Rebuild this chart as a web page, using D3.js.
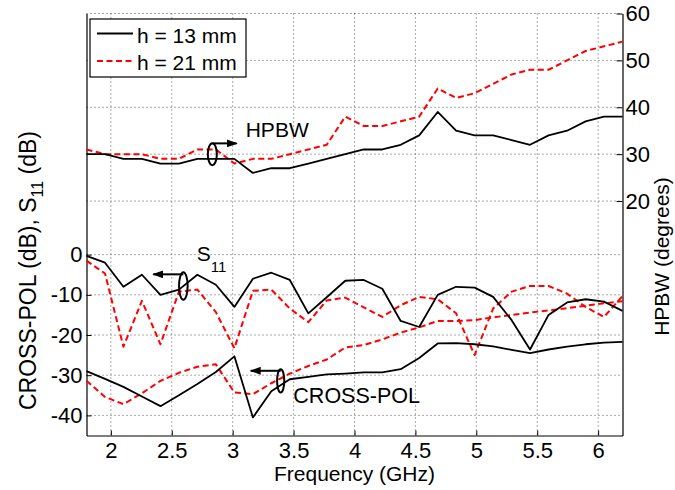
<!DOCTYPE html>
<html lang="en">
<head>
    <meta charset="UTF-8">
    <title>HPBW, S11, CROSS-POL</title>
    <script src="https://cdn.jsdelivr.net/npm/d3@7/dist/d3.min.js"></script>
    <style>
        body { margin: 0; background: #fff; }
        text { font-family: "Liberation Sans", Arial, sans-serif; font-size: 21px; fill: #000; }
    </style>
</head>
<body>
<script>
    // frequency samples (GHz), 30 points across the band
    var freq = [1.800, 1.952, 2.103, 2.255, 2.407, 2.559, 2.710, 2.862, 3.014, 3.166,
        3.317, 3.469, 3.621, 3.772, 3.924, 4.076, 4.228, 4.379, 4.531, 4.683,
        4.834, 4.986, 5.138, 5.290, 5.441, 5.593, 5.745, 5.897, 6.048, 6.200];

    // HPBW (degrees) -> right axis
    var hpbw13 = [30, 30, 29, 29, 28, 28, 29, 29, 29, 26, 27, 27, 28, 29, 30,
        31, 31, 32, 34, 39, 35, 34, 34, 33, 32, 34, 35, 37, 38, 38];
    var hpbw21 = [31, 30, 30, 30, 29, 29, 31, 31, 28, 29, 29, 30, 31, 32, 38,
        36, 36, 37, 38, 44, 42, 43, 45, 47, 48, 48, 50, 52, 53, 54];

    // S11 (dB) -> left axis
    var s11_13 = [-0.3, -2, -8, -5, -10, -8.7, -5, -7.5, -13, -6, -4.5, -6.3, -14.6, -10.6, -6.5,
        -6.3, -8.5, -16.5, -18, -10, -8, -8.2, -10.5, -16.3, -23.6, -15, -11.9, -11.1, -11.7, -14];
    var s11_21 = [-1.5, -4.7, -22.9, -11.5, -22.3, -9.2, -8.7, -14.3, -23.3, -9, -8.7, -13.4, -16.8, -11.4, -10.7,
        -13.1, -15.5, -12.6, -10.5, -11.1, -14.6, -25, -13.4, -9.2, -7.8, -7.8, -9.7, -13, -15.5, -10.3];

    // CROSS-POL (dB) -> left axis
    var xpol13 = [-29, -30.9, -32.9, -35.3, -37.7, -35, -32.2, -29.2, -25.3, -40.5, -34, -31, -30.4, -29.8, -29.6,
        -29.3, -29.3, -28.5, -25.7, -22.1, -22, -22.3, -22.8, -23.7, -24.5, -23.6, -22.9, -22.3, -21.9, -21.7];
    var xpol21 = [-31.4, -35.4, -37.2, -34.5, -31.4, -29.4, -27.9, -27.3, -34.3, -34.7, -32, -29.6, -27.7, -26.1, -23.1,
        -22.5, -21.1, -19.4, -18.1, -16.5, -16.5, -16.3, -15.6, -15, -14.4, -13.9, -13.3, -12.7, -12.1, -11.6];

    var xTicks = [2, 2.5, 3, 3.5, 4, 4.5, 5, 5.5, 6];
    var leftTicks = [-40, -30, -20, -10, 0];
    var rightTicks = [20, 30, 40, 50, 60];
    var legendLabels = ["h = 13 mm", "h = 21 mm"];

    var width = 675;
    var height = 490;
    var margin = {top: 13.5, right: 52.5, bottom: 54.5, left: 86.5};
    var w = width - margin.left - margin.right;
    var h = height - margin.top - margin.bottom;

    var svg = d3.select("body").append("svg")
            .attr("width", width)
            .attr("height", height);

    var defs = svg.append("defs");
    defs.append("marker")
            .attr("id", "arrow")
            .attr("viewBox", "0 0 11 8")
            .attr("refX", 10).attr("refY", 4)
            .attr("markerWidth", 11).attr("markerHeight", 8)
            .attr("markerUnits", "userSpaceOnUse")
            .attr("orient", "auto")
            .append("path").attr("d", "M0,0L11,4L0,8Z").attr("fill", "#000");

    var g = svg.append("g").attr("transform", "translate(" + margin.left + "," + margin.top + ")");

    var x = d3.scaleLinear().domain([1.8, 6.2]).range([0, w]);
    var yL = d3.scaleLinear().domain([-45, 60]).range([h, 0]);
    var yR = d3.scaleLinear().domain([-30, 60]).range([h, 0]);

    // dotted grid
    var gridStyle = function (sel) {
        sel.attr("stroke", "#555").attr("stroke-width", 1).attr("stroke-dasharray", "1,3");
    };
    g.selectAll(".vgrid").data(xTicks).enter().append("line")
            .attr("x1", function (d) { return x(d); }).attr("x2", function (d) { return x(d); })
            .attr("y1", 0).attr("y2", h).call(gridStyle);
    g.selectAll(".lgrid").data(leftTicks).enter().append("line")
            .attr("x1", 0).attr("x2", w)
            .attr("y1", function (d) { return yL(d); }).attr("y2", function (d) { return yL(d); })
            .call(gridStyle);
    g.selectAll(".rgrid").data(rightTicks).enter().append("line")
            .attr("x1", 0).attr("x2", w)
            .attr("y1", function (d) { return yR(d); }).attr("y2", function (d) { return yR(d); })
            .call(gridStyle);

    // axes, ticks inside like matlab
    var fmt = function (d) { return String(d); };
    var xAxis = g.append("g").attr("transform", "translate(0," + h + ")")
            .call(d3.axisBottom(x).tickValues(xTicks).tickFormat(fmt).tickSizeInner(-5).tickSizeOuter(0).tickPadding(7));
    var lAxis = g.append("g")
            .call(d3.axisLeft(yL).tickValues(leftTicks).tickFormat(fmt).tickSizeInner(-5).tickSizeOuter(0).tickPadding(4));
    var rAxis = g.append("g").attr("transform", "translate(" + w + ",0)")
            .call(d3.axisRight(yR).tickValues(rightTicks).tickFormat(fmt).tickSizeInner(-6).tickSizeOuter(0).tickPadding(3));
    [xAxis, lAxis, rAxis].forEach(function (a) {
        a.attr("font-size", null).attr("font-family", null);
        a.selectAll("text").style("font-size", "22px");
        a.select(".domain").attr("stroke", "#000").attr("stroke-width", 1.2);
        a.selectAll(".tick line").attr("stroke", "#000");
    });

    // curves
    var lineL = d3.line().x(function (d, i) { return x(freq[i]); }).y(function (d) { return yL(d); });
    var lineR = d3.line().x(function (d, i) { return x(freq[i]); }).y(function (d) { return yR(d); });
    var series = [
        {v: hpbw21, line: lineR, red: true},
        {v: s11_21, line: lineL, red: true},
        {v: xpol21, line: lineL, red: true},
        {v: hpbw13, line: lineR, red: false},
        {v: s11_13, line: lineL, red: false},
        {v: xpol13, line: lineL, red: false}
    ];
    g.selectAll(".curve").data(series).enter().append("path")
            .attr("d", function (d) { return d.line(d.v); })
            .attr("fill", "none")
            .attr("stroke", function (d) { return d.red ? "#ff0000" : "#000"; })
            .attr("stroke-width", function (d) { return d.red ? 2 : 1.8; })
            .attr("stroke-dasharray", function (d) { return d.red ? "6,3.5" : null; })
            .attr("stroke-linejoin", "round");

    // annotations: ellipse around the pair + arrow to the axis it uses
    var notes = [
        {cx: 2.833, cy: yR(30), rx: 4.5, ry: 11, ay: yR(32.3), ax: 3.033},
        {cx: 2.595, cy: yL(-7.8), rx: 4.3, ry: 13.8, ay: yL(-4.9), ax: 2.348},
        {cx: 3.394, cy: yL(-31.4), rx: 3.6, ry: 11.7, ay: yL(-28.9), ax: 3.148}
    ];
    notes.forEach(function (n) {
        g.append("ellipse")
                .attr("cx", x(n.cx)).attr("cy", n.cy).attr("rx", n.rx).attr("ry", n.ry)
                .attr("fill", "none").attr("stroke", "#000").attr("stroke-width", 2);
        g.append("line")
                .attr("x1", x(n.cx)).attr("y1", n.ay).attr("x2", x(n.ax)).attr("y2", n.ay)
                .attr("stroke", "#000").attr("stroke-width", 2).attr("marker-end", "url(#arrow)");
    });
    g.append("text").attr("x", x(3.107)).attr("y", yR(33.66)).text("HPBW");
    var s11 = g.append("text").attr("x", x(2.705)).attr("y", yL(-1.5));
    s11.append("tspan").text("S");
    s11.append("tspan").attr("dy", 11).attr("font-size", "15px").text("11");
    g.append("text").attr("x", x(3.498)).attr("y", yL(-37)).style("font-size", "21.5px").text("CROSS-POL");

    // axis labels
    svg.append("text").attr("text-anchor", "middle")
            .attr("x", margin.left + w / 2).attr("y", 481).text("Frequency (GHz)");
    svg.append("text").attr("text-anchor", "middle")
            .attr("transform", "translate(669," + (margin.top + h / 2 + 32) + ") rotate(-90)")
            .text("HPBW (degrees)");
    var yl = svg.append("text").attr("text-anchor", "middle")
            .style("font-size", "23px")
            .attr("transform", "translate(36," + (margin.top + h / 2 + 46) + ") rotate(-90)");
    yl.append("tspan").text("CROSS-POL (dB), S");
    yl.append("tspan").attr("dy", 7).attr("font-size", "16px").text("11");
    yl.append("tspan").attr("dy", -7).text(" (dB)");

    // legend
    var leg = svg.append("g").attr("transform", "translate(90,19)");
    leg.append("rect").attr("width", 156).attr("height", 58)
            .attr("fill", "#fff").attr("stroke", "#000").attr("stroke-width", 1.2);
    leg.selectAll(".item").data(legendLabels).enter().append("g")
            .attr("transform", function (d, i) { return "translate(0," + (14.5 + i * 27.5) + ")"; })
            .each(function (d, i) {
                var it = d3.select(this);
                it.append("line").attr("x1", 7).attr("x2", 43).attr("y1", 0).attr("y2", 0)
                        .attr("stroke", i ? "#ff0000" : "#000").attr("stroke-width", i ? 2 : 1.8)
                        .attr("stroke-dasharray", i ? "6,3.5" : null);
                it.append("text").attr("x", 47).attr("y", 9).text(d);
            });
</script>
</body>
</html>
